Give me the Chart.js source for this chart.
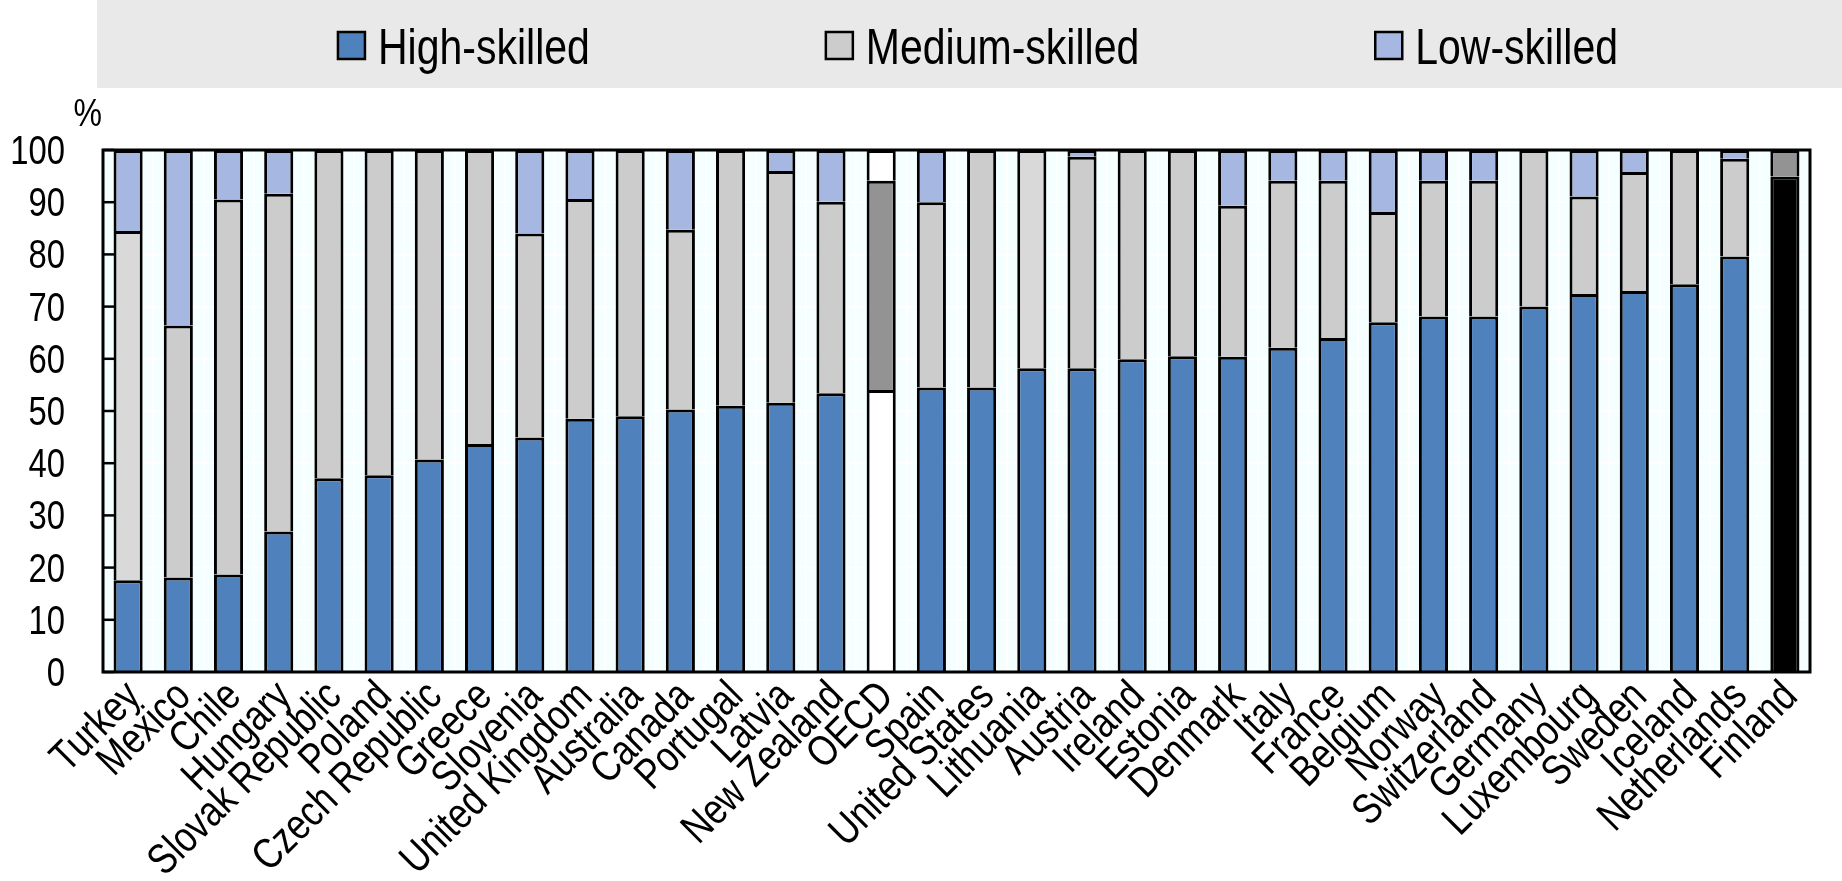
<!DOCTYPE html>
<html>
<head>
<meta charset="utf-8">
<script src="https://cdn.jsdelivr.net/npm/chart.js@4.4.1/dist/chart.umd.min.js"></script>
<style>
  html, body { margin: 0; padding: 0; background: #fff; }
  #wrap { width: 1842px; height: 881px; position: relative; }
</style>
</head>
<body>
<div id="wrap"><canvas id="skillsChart"></canvas></div>

<script>
  // Share of employment by skill level, %
  const countries = ['Turkey', 'Mexico', 'Chile', 'Hungary', 'Slovak Republic', 'Poland', 'Czech Republic',
    'Greece', 'Slovenia', 'United Kingdom', 'Australia', 'Canada', 'Portugal', 'Latvia', 'New Zealand',
    'OECD', 'Spain', 'United States', 'Lithuania', 'Austria', 'Ireland', 'Estonia', 'Denmark', 'Italy',
    'France', 'Belgium', 'Norway', 'Switzerland', 'Germany', 'Luxembourg', 'Sweden', 'Iceland',
    'Netherlands', 'Finland'];

  const highSkilled = [17.6, 18.1, 18.7, 26.9, 37.1, 37.7, 40.7, 43.7, 44.9, 48.5, 49.0, 50.3, 51.0, 51.6,
    53.4, 54.0, 54.5, 54.5, 58.2, 58.2, 59.9, 60.5, 60.4, 62.1, 64.0, 67.0, 68.1, 68.1, 70.0, 72.4, 73.0,
    74.3, 79.6, 94.9];

  const mediumSkilled = [66.9, 48.3, 71.8, 64.7, 62.9, 62.3, 59.3, 56.3, 39.1, 42.1, 51.0, 34.4, 49.0, 44.4,
    36.7, 40.1, 35.5, 45.5, 41.8, 40.5, 40.1, 39.5, 28.9, 32.0, 30.1, 21.1, 26.0, 26.0, 30.0, 18.7, 22.8,
    25.7, 18.7, 5.1];

  const lowSkilled = [15.5, 33.6, 9.5, 8.4, 0, 0, 0, 0, 16.0, 9.4, 0, 15.3, 0, 4.0, 9.9, 5.9, 10.0, 0, 0, 1.3,
    0, 0, 10.7, 5.9, 5.9, 11.9, 5.9, 5.9, 0, 8.9, 4.2, 0, 1.7, 0];

  const yTicks = [0, 10, 20, 30, 40, 50, 60, 70, 80, 90, 100];

  const FONT = '"Liberation Sans", Arial, sans-serif';
  const NARROW = 0.82; // squeeze Liberation Sans towards Arial Narrow
  const C_HIGH = '#4f81bd', C_MED = '#cccccc', C_LOW = '#a6b8e2';

  // OECD average and Finland get their own colours, as in the original
  function highColor(ctx) {
    const c = countries[ctx.dataIndex];
    if (c === 'OECD') return '#ffffff';
    if (c === 'Finland') return '#000000';
    return C_HIGH;
  }
  function medColor(ctx) {
    const c = countries[ctx.dataIndex];
    if (c === 'OECD' || c === 'Finland') return '#939393';
    if (c === 'Turkey' || c === 'Lithuania') return '#d9d9d9';
    return C_MED;
  }
  function lowColor(ctx) {
    return countries[ctx.dataIndex] === 'OECD' ? '#ffffff' : C_LOW;
  }

  const legendColors = [C_HIGH, C_MED, C_LOW];

  function narrowText(ctx, text, x, y, size, align, baseline, angle) {
    ctx.save();
    ctx.translate(x, y);
    if (angle) ctx.rotate(angle);
    ctx.scale(NARROW, 1);
    ctx.font = size + 'px ' + FONT;
    ctx.fillStyle = '#000';
    ctx.textAlign = align;
    ctx.textBaseline = baseline;
    ctx.fillText(text, 0, 0);
    ctx.restore();
  }

  const decorations = {
    id: 'decorations',
    beforeDraw(chart) {
      const { ctx, chartArea: a } = chart;
      ctx.save();
      ctx.fillStyle = '#e9e9e9';
      ctx.fillRect(97, 0, chart.width - 97, 88);
      ctx.fillStyle = '#f5ffff';
      ctx.fillRect(a.left, a.top, a.right - a.left, a.bottom - a.top);
      ctx.restore();
    },
    afterDraw(chart) {
      const { ctx, chartArea: a } = chart;
      const y = chart.scales.y, x = chart.scales.x;
      ctx.save();

      // inner tick marks + y labels
      ctx.strokeStyle = '#000';
      ctx.lineWidth = 2.5;
      yTicks.forEach(v => {
        const py = y.getPixelForValue(v);
        ctx.beginPath();
        ctx.moveTo(a.left, py);
        ctx.lineTo(a.left + 11, py);
        ctx.stroke();
        narrowText(ctx, String(v), a.left - 38, py + 14, 40, 'right', 'alphabetic');
      });

      // frame round the plot
      ctx.lineWidth = 3;
      ctx.strokeRect(a.left, a.top, a.right - a.left, a.bottom - a.top);

      // category labels, 45 degrees
      chart.data.labels.forEach((lab, i) => {
        const px = x.getPixelForTick(i);
        narrowText(ctx, lab, px + 6, a.bottom + 18, 43, 'right', 'middle', -Math.PI / 4);
      });

      // unit
      narrowText(ctx, '%', a.left - 1, a.top - 24, 39, 'right', 'alphabetic');

      // legend band
      const box = 27, gap = 13, spacing = 236, size = 50;
      ctx.font = size + 'px ' + FONT;
      const labels = chart.data.datasets.map(d => d.label);
      const widths = labels.map(t => ctx.measureText(t).width * NARROW);
      const total = widths.reduce((s, w) => s + w + box + gap, 0) + spacing * (labels.length - 1);
      let lx = 978 - total / 2;
      labels.forEach((t, i) => {
        ctx.fillStyle = legendColors[i];
        ctx.fillRect(lx, 32, box, box);
        ctx.lineWidth = 2.5;
        ctx.strokeStyle = '#000';
        ctx.strokeRect(lx, 32, box, box);
        narrowText(ctx, t, lx + box + gap, 64, size, 'left', 'alphabetic');
        lx += box + gap + widths[i] + spacing;
      });
      ctx.restore();
    }
  };

  const barStyle = {
    borderColor: '#000',
    borderWidth: { top: 3, left: 3, right: 3, bottom: 0 },
    borderSkipped: false,
    barPercentage: 0.58,
    categoryPercentage: 1.0
  };

  new Chart(document.getElementById('skillsChart'), {
    type: 'bar',
    data: {
      labels: countries,
      datasets: [
        { label: 'High-skilled', data: highSkilled, backgroundColor: highColor, ...barStyle },
        { label: 'Medium-skilled', data: mediumSkilled, backgroundColor: medColor, ...barStyle },
        { label: 'Low-skilled', data: lowSkilled, backgroundColor: lowColor, ...barStyle }
      ]
    },
    options: {
      responsive: true,
      maintainAspectRatio: false,
      animation: false,
      layout: { padding: { top: 150, right: 32, left: 0, bottom: 0 } },
      plugins: {
        legend: { display: false },
        tooltip: { enabled: false }
      },
      scales: {
        x: {
          stacked: true,
          grid: { display: true, color: '#ffffff', lineWidth: 1.5, drawTicks: false, offset: true },
          border: { display: false },
          ticks: { display: false, autoSkip: false },
          afterFit: s => { s.height = 209; }
        },
        y: {
          stacked: true,
          min: 0,
          max: 100,
          grid: { color: '#ffffff', lineWidth: 1.5, drawTicks: false },
          border: { display: false },
          afterBuildTicks: s => { s.ticks = yTicks.map(v => ({ value: v })); },
          ticks: { display: false },
          afterFit: s => { s.width = 103; }
        }
      }
    },
    plugins: [decorations]
  });
</script>
</body>
</html>
